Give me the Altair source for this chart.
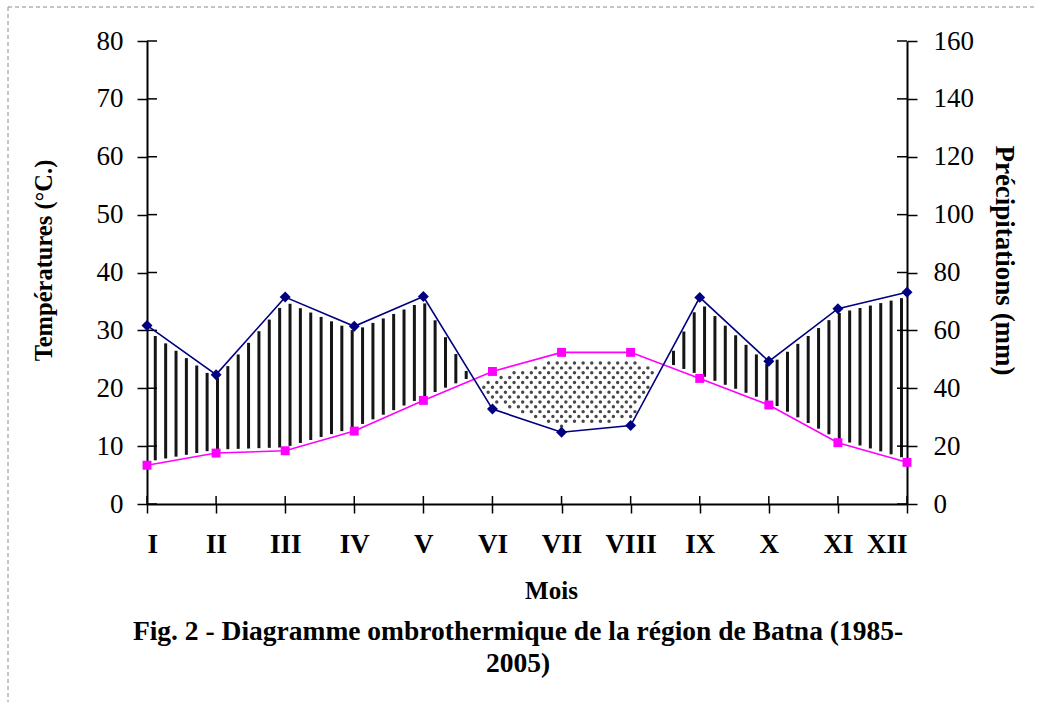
import json
import altair as alt
import pandas as pd

# Batna, monthly means 1985-2005
months = ["I", "II", "III", "IV", "V", "VI", "VII", "VIII", "IX", "X", "XI", "XII"]
temperature = [6.7, 8.8, 9.2, 12.6, 17.9, 22.9, 26.2, 26.2, 21.7, 17.1, 10.6, 7.2]
precipitation = [61.7, 44.7, 71.5, 61.4, 71.7, 32.8, 24.8, 27.1, 71.4, 49.3, 67.5, 73.2]
temp_ticks = [0, 10, 20, 30, 40, 50, 60, 70, 80]
prec_ticks = [0, 20, 40, 60, 80, 100, 120, 140, 160]
caption = ["Fig. 2 - Diagramme ombrothermique de la région de Batna (1985-", "2005)"]

W, H = 760, 463
FONT = "'Times New Roman', 'Liberation Serif', serif"
NAVY = "#000080"
MAGENTA = "#FF00FF"

df = pd.DataFrame({
    "idx": list(range(len(months))),
    "month": months,
    "temp": temperature,
    "prec": precipitation,
})
last = len(months) - 1

x_scale = alt.Scale(domain=[0, last], nice=False, zero=False)
x_axis = alt.Axis(
    values=list(range(len(months))),
    labelExpr=f"{json.dumps(months)}[datum.value]",
    title="Mois",
    titleFontSize=25,
    titleFontWeight="bold",
    titlePadding=21,
    titleX=404,
    titleAlign="center",
    labelFontSize=27,
    labelFontWeight="bold",
    labelPadding=18,
    tickSize=9,
    grid=False,
)
y_temp_scale = alt.Scale(domain=[0, 80], nice=False)
y_temp_axis = alt.Axis(
    values=temp_ticks,
    title="Températures (°C.)",
    titleFontSize=24.5,
    titleFontWeight="bold",
    titlePadding=40,
    titleY=219,
    labelFontSize=27,
    labelPadding=14,
    tickSize=10,
    grid=False,
)
y_prec_scale = alt.Scale(domain=[0, 160], nice=False)
y_prec_axis = alt.Axis(
    orient="right",
    values=prec_ticks,
    title="Précipitations (mm)",
    titleFontSize=27,
    titleFontWeight="bold",
    titlePadding=16,
    titleY=219,
    labelFontSize=27,
    labelPadding=16,
    tickSize=10,
    grid=False,
)


def X(field="x"):
    return alt.X(f"{field}:Q", scale=x_scale, axis=x_axis)


def YT(field):
    return alt.Y(f"{field}:Q", scale=y_temp_scale, axis=y_temp_axis)


def YP(field):
    return alt.Y(f"{field}:Q", scale=y_prec_scale, axis=y_prec_axis)


def interpolated(source):
    """Linear interpolation of both curves at position datum.x (temperature units)."""
    return (
        source.transform_calculate(i0=f"min(floor(datum.x), {last - 1})")
        .transform_calculate(i1="datum.i0 + 1", f="datum.x - datum.i0")
        .transform_lookup(
            lookup="i0",
            from_=alt.LookupData(data=df, key="idx", fields=["temp", "prec"]),
            as_=["t0", "p0"],
        )
        .transform_lookup(
            lookup="i1",
            from_=alt.LookupData(data=df, key="idx", fields=["temp", "prec"]),
            as_=["t1", "p1"],
        )
        .transform_calculate(
            T="datum.t0 + (datum.t1 - datum.t0) * datum.f",
            P="(datum.p0 + (datum.p1 - datum.p0) * datum.f) / 2",
        )
    )


# humid period: vertical hatching where P > 2T
stripes = (
    interpolated(alt.Chart(alt.sequence(0.12, 11, 0.15, as_="x")))
    .transform_filter("datum.P > datum.T + 1")
    .transform_calculate(lo="datum.T + 0.6", hi="datum.P - 0.8")
    .mark_rule(color="#151515", strokeWidth=3)
    .encode(x=X(), y=YT("lo"), y2="hi:Q")
)

# dry period: dotted fill where P < 2T
dots = (
    interpolated(
        alt.Chart(alt.sequence(0, 11, 0.125, as_="t"))
        .transform_calculate(rows="sequence(0, 96)")
        .transform_flatten(["rows"], as_=["row"])
        .transform_calculate(x="datum.t + (datum.row % 2) * 0.0625", yv="datum.row * 0.84")
    )
    .transform_filter("datum.x <= 11 && datum.yv > datum.P + 1 && datum.yv < datum.T - 1.2")
    .mark_circle(color="#333333", size=12, opacity=0.9)
    .encode(x=X(), y=YT("yv"))
)

temp_base = alt.Chart(df).transform_calculate(x="datum.idx")
temp_line = temp_base.mark_line(color=MAGENTA, strokeWidth=1.6).encode(x=X(), y=YT("temp"))
temp_pts = temp_base.mark_point(shape="square", filled=True, color=MAGENTA, size=80, opacity=1).encode(
    x=X(), y=YT("temp")
)

# inner halves of the crossing ticks
left_inner = (
    alt.Chart(pd.DataFrame({"v": temp_ticks}))
    .mark_rule(color="black", strokeWidth=1.5)
    .encode(x=alt.value(0), x2=alt.value(10), y=YT("v"))
)
bottom_inner = (
    alt.Chart(df)
    .transform_calculate(x="datum.idx")
    .mark_rule(color="black", strokeWidth=1.5)
    .encode(x=X(), y=alt.value(H - 8), y2=alt.value(H))
)

# dashed frame around the figure
frame_src = alt.Chart(pd.DataFrame({"k": [0]}))
frame_top = frame_src.mark_rule(color="#8a8a8a", strokeWidth=1, strokeDash=[4, 3]).encode(
    x=alt.value(-139), x2=alt.value(W + 130), y=alt.value(-34)
)
frame_left = frame_src.mark_rule(color="#8a8a8a", strokeWidth=1, strokeDash=[4, 3]).encode(
    x=alt.value(-139), y=alt.value(-34), y2=alt.value(H + 198)
)

# figure caption under the axis title
caption_text = frame_src.mark_text(
    text=caption,
    font=FONT,
    fontSize=27.5,
    fontWeight="bold",
    lineHeight=32,
    align="center",
    baseline="alphabetic",
    color="black",
).encode(x=alt.value(W / 2 - 9), y=alt.value(H + 136))

prec_base = alt.Chart(df).transform_calculate(x="datum.idx")
prec_line = prec_base.mark_line(color=NAVY, strokeWidth=1.6).encode(x=X(), y=YP("prec"))
prec_pts = prec_base.mark_point(shape="diamond", filled=True, color=NAVY, size=120, opacity=1).encode(
    x=X(), y=YP("prec")
)
right_inner = (
    alt.Chart(pd.DataFrame({"v": prec_ticks}))
    .mark_rule(color="black", strokeWidth=1.5)
    .encode(x=alt.value(W - 10), x2=alt.value(W), y=YP("v"))
)

left = alt.layer(frame_top, frame_left, caption_text, stripes, dots, temp_line, temp_pts, left_inner, bottom_inner)
right = alt.layer(prec_line, prec_pts, right_inner)

chart = (
    alt.layer(left, right)
    .resolve_scale(y="independent")
    .properties(
        width=W,
        height=H,
        autosize=alt.AutoSizeParams(type="none"),
        padding={"left": 147, "top": 41, "right": 130, "bottom": 198},
    )
    .configure(font=FONT, background="white")
    .configure_view(stroke=None)
    .configure_axis(
        labelFont=FONT,
        titleFont=FONT,
        labelColor="black",
        titleColor="black",
        domainColor="black",
        domainWidth=2,
        tickColor="black",
        tickWidth=1.5,
    )
)

chart.save("out.html", embed_options={"renderer": "svg", "actions": False})
